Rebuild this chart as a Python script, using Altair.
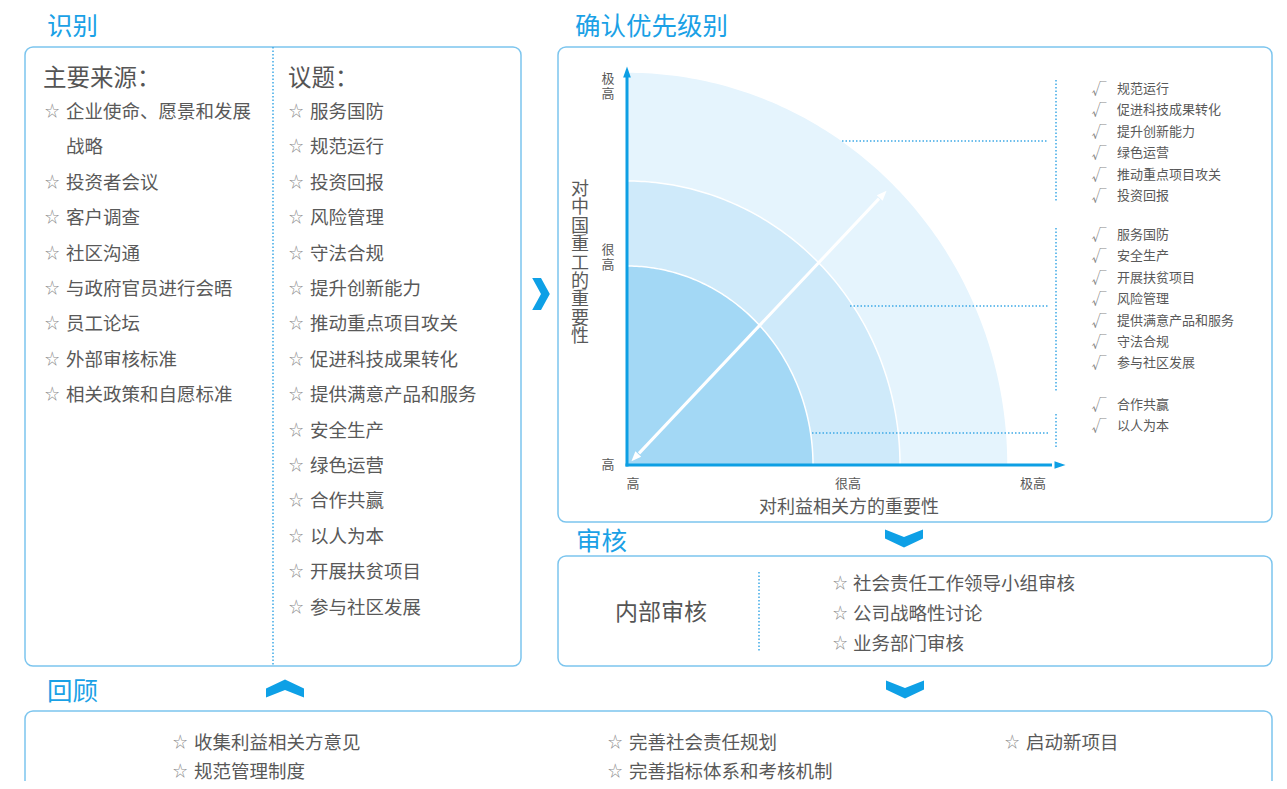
import math
import numpy as np
import pandas as pd
import altair as alt

FONT = "Noto Sans CJK SC"
BLUE = "#1aa1e6"
AXIS_BLUE = "#0d9fe4"
BOX = "#7cc5ee"
DOT = "#3ea9e6"
TEXT = "#595959"
STAR = "#8c8c8c"

# ---------------- data (text content) ----------------
section_titles = ["识别", "确认优先级别", "审核", "回顾"]
source_heading = "主要来源："
sources = ["企业使命、愿景和发展战略", "投资者会议", "客户调查", "社区沟通",
           "与政府官员进行会晤", "员工论坛", "外部审核标准", "相关政策和自愿标准"]
issue_heading = "议题："
issues = ["服务国防", "规范运行", "投资回报", "风险管理", "守法合规", "提升创新能力",
          "推动重点项目攻关", "促进科技成果转化", "提供满意产品和服务", "安全生产",
          "绿色运营", "合作共赢", "以人为本", "开展扶贫项目", "参与社区发展"]
tier_top = ["规范运行", "促进科技成果转化", "提升创新能力", "绿色运营", "推动重点项目攻关", "投资回报"]
tier_mid = ["服务国防", "安全生产", "开展扶贫项目", "风险管理", "提供满意产品和服务", "守法合规", "参与社区发展"]
tier_low = ["合作共赢", "以人为本"]
x_ticks = ["高", "很高", "极高"]
y_ticks = ["高", "很高", "极高"]
x_title = "对利益相关方的重要性"
y_title = "对中国重工的重要性"
review_label = "内部审核"
review_items = ["社会责任工作领导小组审核", "公司战略性讨论", "业务部门审核"]
retro_cols = [["收集利益相关方意见", "规范管理制度"],
              ["完善社会责任规划", "完善指标体系和考核机制"],
              ["启动新项目"]]
ring_colors = ["#e5f4fd", "#cfeafa", "#a3d8f5"]

# ---------------- layout (pixel positions on the page) ----------------
W, H = 1271, 773
XS = alt.Scale(domain=[8, 8 + W])
YS = alt.Scale(domain=[8 + H, 8])


def enc_xy(chart, x2=False, y2=False):
    e = dict(x=alt.X("x:Q", scale=XS, axis=None), y=alt.Y("y:Q", scale=YS, axis=None))
    if x2:
        e["x2"] = alt.X2("x2:Q")
    if y2:
        e["y2"] = alt.Y2("y2:Q")
    return chart.encode(**e)


def text_layer(rows, dy=2, **kw):
    df = pd.DataFrame(rows, columns=["x", "y", "text"])
    return enc_xy(alt.Chart(df).mark_text(font=FONT, baseline="middle", dy=dy, **kw)).encode(text="text:N")


layers = []

# boxes
boxes = pd.DataFrame([
    dict(x=25, x2=521, y=47, y2=666),
    dict(x=558, x2=1272, y=47, y2=522),
    dict(x=558, x2=1272, y=556, y2=666),
    dict(x=25, x2=1272, y=711, y2=812),
])
layers.append(enc_xy(alt.Chart(boxes).mark_rect(cornerRadius=8, fill="white", stroke=BOX,
                                                  strokeWidth=1.5), x2=True, y2=True))

# quarter-ellipse rings
cx, cy = 627, 465
ring_rx = [381, 273, 186]
ring_ry = [393, 284, 199]
th = np.linspace(0, math.pi / 2, 121)
for rx, ry, col in zip(ring_rx, ring_ry, ring_colors):
    df = pd.DataFrame(dict(x=cx + rx * np.sin(th), y=cy - ry * np.cos(th), y2=cy))
    layers.append(enc_xy(alt.Chart(df).mark_area(color=col, stroke="white", strokeWidth=1.5,
                                                 opacity=1), y2=True))

# dotted guide lines
dots = pd.DataFrame([
    dict(x=273, x2=273, y=47, y2=666),
    dict(x=759, x2=759, y=572, y2=652),
    dict(x=842, x2=1048, y=141, y2=141),
    dict(x=850, x2=1048, y=306, y2=306),
    dict(x=812, x2=1048, y=433, y2=433),
    dict(x=1056, x2=1056, y=80, y2=202),
    dict(x=1056, x2=1056, y=228, y2=391),
    dict(x=1056, x2=1056, y=414, y2=449),
])
layers.append(enc_xy(alt.Chart(dots).mark_rule(color=DOT, strokeWidth=1.5, strokeDash=[1.5, 2]),
                     x2=True, y2=True))

# axes
axes = pd.DataFrame([dict(x=cx, x2=cx, y=cy + 1.5, y2=76), dict(x=cx - 1.5, x2=1052, y=cy, y2=cy)])
layers.append(enc_xy(alt.Chart(axes).mark_rule(color=AXIS_BLUE, strokeWidth=3), x2=True, y2=True))
heads = pd.DataFrame([dict(x=cx, y=72, angle=0), dict(x=1060, y=cy, angle=90)])
layers.append(enc_xy(alt.Chart(heads).mark_point(shape="M0,-1L0.7,1L-0.7,1Z", filled=True,
                                                 size=121, color=AXIS_BLUE, opacity=1))
              .encode(angle=alt.Angle("angle:Q", scale=None)))

# diagonal white double arrow
tip_a = (890, 187)
tip_b = (628, 465)
L = math.hypot(tip_a[0] - tip_b[0], tip_a[1] - tip_b[1])
ux, uy = (tip_a[0] - tip_b[0]) / L, (tip_a[1] - tip_b[1]) / L
ang = math.degrees(math.atan2(ux, -uy))
diag = pd.DataFrame([dict(x=tip_b[0] + ux * 16, y=tip_b[1] + uy * 16,
                          x2=tip_a[0] - ux * 16, y2=tip_a[1] - uy * 16)])
layers.append(enc_xy(alt.Chart(diag).mark_rule(color="white", strokeWidth=3), x2=True, y2=True))
dheads = pd.DataFrame([dict(x=tip_a[0] - ux * 10, y=tip_a[1] - uy * 10, angle=ang),
                       dict(x=tip_b[0] + ux * 10, y=tip_b[1] + uy * 10, angle=(ang + 180) % 360)])
layers.append(enc_xy(alt.Chart(dheads).mark_point(shape="M0,-1L0.8,1L-0.8,1Z", filled=True,
                                                  size=100, color="white", opacity=1))
              .encode(angle=alt.Angle("angle:Q", scale=None)))

# chevrons
chev_right = "M-0.55,-1L0,-1L0.55,0L0,1L-0.55,1L0,0Z"
chev_down = "M-1,-0.45L0,-0.05L1,-0.45L1,0.02L0,0.5L-1,0.02Z"
chev_up = "M-1,0.45L0,0.05L1,0.45L1,-0.02L0,-0.5L-1,-0.02Z"
for shape, px, py, sz in [(chev_right, 541, 294, 1024), (chev_down, 904, 538, 1444),
                          (chev_down, 905, 689, 1444), (chev_up, 285, 689, 1444)]:
    df = pd.DataFrame([dict(x=px, y=py)])
    layers.append(enc_xy(alt.Chart(df).mark_point(shape=shape, filled=True, size=sz,
                                                  color="#0ea0e6", opacity=1)))

# section titles
title_pos = [(47, 25), (575, 25), (576, 540), (47, 690)]
layers.append(text_layer([(p[0], p[1], t) for p, t in zip(title_pos, section_titles)],
                         align="left", fontSize=25.5, color=BLUE))

# column headings
layers.append(text_layer([(43, 77, source_heading), (288, 77, issue_heading)],
                         align="left", fontSize=23.5, color="#555555"))

# left lists
step = 35.4
star_rows, item_rows = [], []
row = 0
for s in sources:
    lines = [s[i:i + 10] for i in range(0, len(s), 10)]
    for k, ln in enumerate(lines):
        y = 110 + row * step
        if k == 0:
            star_rows.append((45, y, "☆"))
        item_rows.append((66, y, ln))
        row += 1
for i, s in enumerate(issues):
    y = 110 + i * step
    star_rows.append((289, y, "☆"))
    item_rows.append((310, y, s))

# review items
for i, s in enumerate(review_items):
    y = 582 + i * 30
    star_rows.append((833, y, "☆"))
    item_rows.append((853, y, s))

# retrospective items
for cx0, col in zip([173, 608, 1005], retro_cols):
    for i, s in enumerate(col):
        y = 741 + i * 29
        star_rows.append((cx0, y, "☆"))
        item_rows.append((cx0 + 21, y, s))

layers.append(text_layer(star_rows, align="left", fontSize=14.5, color=STAR))
layers.append(text_layer(item_rows, align="left", fontSize=18.5, color=TEXT))
layers.append(text_layer([(661, 611, review_label)], align="center", fontSize=23, color="#555555"))

# priority lists
check_rows, prio_rows = [], []
for start, tier in [(87, tier_top), (233, tier_mid), (403, tier_low)]:
    for i, s in enumerate(tier):
        y = start + i * 21.4
        check_rows.append((1099, y, "√"))
        prio_rows.append((1117, y, s))
layers.append(text_layer(check_rows, align="center", fontSize=15, color="#888888",
                         fontWeight=300))
layers.append(text_layer(prio_rows, align="left", fontSize=13, color=TEXT))

# axis tick labels and titles (vertical labels: y is the first character's centre)
xt_pos = [633, 848, 1033]
layers.append(text_layer([(p, 482, t) for p, t in zip(xt_pos, x_ticks)],
                         align="center", fontSize=13, color=TEXT))
yt_first = [463, 248, 77]
layers.append(text_layer([(608, p, "\n".join(t)) for p, t in zip(yt_first, y_ticks)],
                         align="center", fontSize=13, color=TEXT, lineBreak="\n", lineHeight=14.5))
layers.append(text_layer([(849, 506, x_title)], align="center", fontSize=18, color=TEXT))
layers.append(text_layer([(580, 188, "\n".join(y_title))], align="center", fontSize=18,
                         color=TEXT, lineBreak="\n", lineHeight=18.4))

chart = alt.layer(*layers).properties(
    width=W, height=H, padding=0, autosize="none", background="white"
).configure_view(stroke=None)

chart.save("out.html", embed_options={"renderer": "svg", "actions": False})
